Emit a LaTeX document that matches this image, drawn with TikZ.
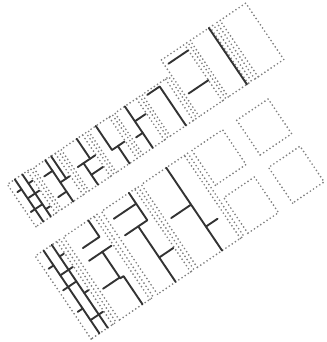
\documentclass[tikz,border=0pt]{standalone}
\usepackage{tikz}
\begin{document}
\begin{tikzpicture}[
    x=1pt, y=1pt,
    cell/.style={draw=black!50, line width=1.9pt, line cap=round, dash pattern=on 0pt off 3.8pt},
    wall/.style={draw=black!80, line width=1.9pt, line cap=round, line join=round}
]
\useasboundingbox (0,0) rectangle (326,-342);
\begin{scope}[rotate=34]
% upper strip: panels, right to left
\draw[cell] (167,-208) rectangle (202,-140);
\draw[cell] (171,-208) -- (171,-140);
\foreach \xa/\xb/\yt in {135/163/-140, 100/132/-140, 65/97/-158,
    32/62/-158, 0/29/-158, -33/-3/-158, -66/-36/-158, -97/-69/-157}{
  \draw[cell] (\xa,-208) rectangle (\xb,\yt);
  \draw[cell] (\xb-4,-208) -- (\xb-4,\yt);
}
% upper strip walls
\draw[wall] (157.5,-140) -- (157.5,-208);
\draw[wall] (104,-147) -- (128,-147);
\draw[wall] (104,-183) -- (128,-183);
\draw[wall] (69,-161) -- (84,-161) -- (84,-208);
\draw[wall] (44,-158) -- (44,-208);
\draw[wall] (44,-176) -- (57,-176);
\draw[wall] (36,-190) -- (44,-190);
\draw[wall] (9,-158) -- (9,-187) -- (24,-187);
\draw[wall] (16,-187) -- (16,-208);
\draw[wall] (-29,-182) -- (-8,-182);
\draw[wall] (-22,-182) -- (-22,-208);
\draw[wall] (-14,-158) -- (-14,-182);
\draw[wall] (-22,-196) -- (-8,-196);
\draw[wall] (-52,-158) -- (-52,-208);
\draw[wall] (-62,-171) -- (-52,-171);
\draw[wall] (-52,-185) -- (-41,-185);
\draw[wall] (-62,-196) -- (-52,-196);
\draw[wall] (-45,-158) -- (-45,-185);
\draw[wall] (-88,-157) -- (-88,-208);
\draw[wall] (-79,-157) -- (-79,-208);
\draw[wall] (-93,-169) -- (-88,-169);
\draw[wall] (-88,-180) -- (-74,-180);
\draw[wall] (-93,-193) -- (-79,-193);
\draw[wall] (-79,-168) -- (-74,-168);
\draw[wall] (-79,-199) -- (-74,-199);

% lower strip: four squares, then panels
\foreach \xa/\xb in {75/112, 129/167}
  \foreach \ya/\yb in {-274/-232, -332/-289}
    \draw[cell] (\xa,\ya) rectangle (\xb,\yb);
\foreach \xa/\xb in {14/70, -34/10, -80/-39, -114/-84}{
  \draw[cell] (\xa,-332) rectangle (\xb,-232);
  \draw[cell] (\xb-4,-332) -- (\xb-4,-232);
}
% lower strip walls
\draw[wall] (44,-232) -- (44,-332);
\draw[wall] (20,-276.5) -- (44,-276.5);
\draw[wall] (44,-303) -- (58,-303);
\draw[wall] (-1,-232) -- (-1,-265) -- (-28,-265);
\draw[wall] (-28,-245) -- (-1,-245);
\draw[wall] (-12,-265) -- (-12,-332);
\draw[wall] (-12,-302.5) -- (5,-302.5);
\draw[wall] (-50,-232) -- (-50,-252) -- (-70,-252);
\draw[wall] (-72,-266) -- (-45,-266);
\draw[wall] (-56,-266) -- (-56,-298) -- (-52,-298) -- (-52,-332);
\draw[wall] (-76,-297) -- (-56,-297);
\draw[wall] (-104,-232) -- (-104,-332);
\draw[wall] (-94,-232) -- (-94,-332);
\draw[wall] (-110,-250) -- (-104,-250);
\draw[wall] (-104,-262) -- (-89,-262);
\draw[wall] (-110,-276) -- (-94,-276);
\draw[wall] (-94,-290) -- (-89,-290);
\draw[wall] (-110,-302) -- (-104,-302);
\draw[wall] (-104,-316) -- (-89,-316);
\draw[wall] (-94,-246) -- (-89,-246);
\end{scope}
\end{tikzpicture}
\end{document}
